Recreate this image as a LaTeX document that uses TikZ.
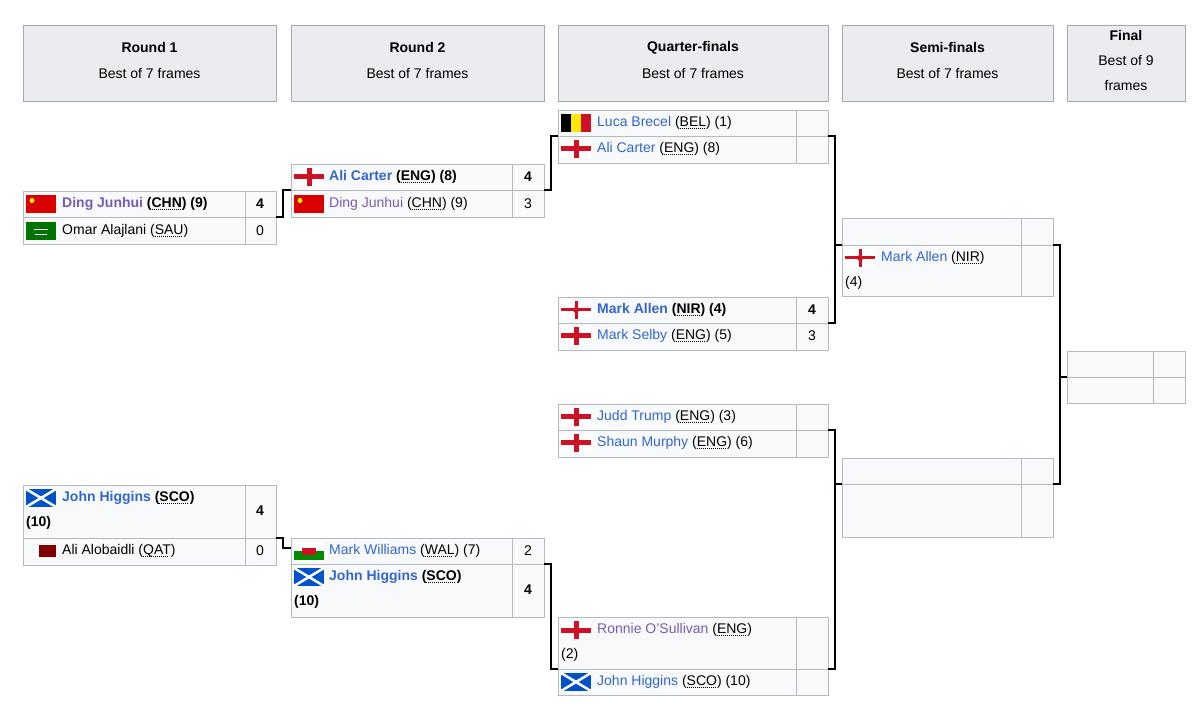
\documentclass[tikz,border=0pt]{standalone}
\usepackage{fontspec}
\setmainfont{Liberation Sans}
\definecolor{hdrfill}{HTML}{EAECF0}
\definecolor{hdrline}{HTML}{A2A9B1}
\definecolor{slotfill}{HTML}{F8F9FA}
\definecolor{link}{HTML}{3366CC}
\definecolor{visited}{HTML}{795CB2}
\definecolor{engred}{HTML}{CE1124}
\newcommand\abbr[1]{\setbox0\hbox{#1}\rlap{\raisebox{-2.5pt}{\hbox to\wd0{\leaders\hbox to 2pt{\vrule width 1pt height 0.7pt\hss}\hfil}}}\box0}
\tikzset{
    header/.style={draw=hdrline, fill=hdrfill},
    slotbox/.style={draw=hdrline!80, fill=slotfill},
    player/.style={anchor=west, inner sep=0pt, font=\fontsize{14}{17}\selectfont},
    score/.style={inner sep=0pt, font=\fontsize{14}{17}\selectfont},
    bracket/.style={draw=black, line width=1.2pt},
}
% flags, drawn in a 30x18 box centred vertically on the origin
\newcommand\flagENG{\fill[white] (0,-9) rectangle (30,9);
    \fill[engred] (12.5,-9) rectangle (17.5,9); \fill[engred] (0,-2.5) rectangle (30,2.5);}
\newcommand\flagCHN{\fill[red!85!black] (0,-9) rectangle (30,9);
    \fill[yellow] (6,-3.5) circle (2.5);}
\newcommand\flagSAU{\fill[green!45!black] (0,-9) rectangle (30,9);
    \draw[white, line width=.8pt] (8,-2) -- (22,-2); \draw[white] (9,3) -- (21,3);}
\newcommand\flagSCO{\fill[blue!60!cyan!80!black] (0,-9) rectangle (30,9);
    \draw[white, line width=2.5pt] (0,-9) -- (30,9) (0,9) -- (30,-9);}
\newcommand\flagQAT{\fill[white] (8,-6) rectangle (13,6); \fill[red!50!black] (13,-6) rectangle (30,6);}
\newcommand\flagWAL{\fill[white] (0,-9) rectangle (30,0); \fill[green!55!black] (0,0) rectangle (30,9);
    \fill[engred] (8,-3) rectangle (22,4);}
\newcommand\flagBEL{\fill[black] (0,-9) rectangle (10,9); \fill[yellow!90!orange] (10,-9) rectangle (20,9);
    \fill[engred] (20,-9) rectangle (30,9);}
\newcommand\flagNIR{\fill[white] (0,-9) rectangle (30,9);
    \fill[engred] (13.5,-9) rectangle (16.5,9); \fill[engred] (0,-1.5) rectangle (30,1.5);
    \fill[engred] (15,0) circle (3);}
\newcommand\flag[3]{\begin{scope}[shift={(#2,#3)}]\csname flag#1\endcsname\end{scope}}

\begin{document}
\begin{tikzpicture}[x=1pt, y=-1pt]
\useasboundingbox (0,0) rectangle (1200,708);

% headers
\foreach \xa/\xb/\name in {23/276/Round 1, 291/544/Round 2, 558/828/Quarter-finals, 842/1053/Semi-finals}{
    \draw[header] (\xa,25) rectangle (\xb,101);
    \node[score, font=\fontsize{14}{17}\selectfont\bfseries] at ({(\xa+\xb)/2},48) {\name};
    \node[score] at ({(\xa+\xb)/2},74) {Best of 7 frames};
}
\draw[header] (1067,25) rectangle (1185,101);
\node[score, font=\fontsize{14}{17}\selectfont\bfseries] (hfin) at (1126,36) {Final};
\node[score] (hfin2) at (1126,61) {Best of 9};
\node[score] (hfin3) at (1126,86) {frames};

% slot boxes: x left / split / right, y top / bottom
\foreach \xa/\xs/\xb/\ya/\yb in {
    23/245/276/191/217, 23/245/276/217/244,
    23/245/276/485/538, 23/245/276/538/565,
    291/512/544/164/190, 291/512/544/190/217,
    291/512/544/538/564, 291/512/544/564/617,
    558/796/828/110/136, 558/796/828/136/163,
    558/796/828/297/323, 558/796/828/323/350,
    558/796/828/404/430, 558/796/828/430/457,
    558/796/828/617/669, 558/796/828/669/695,
    842/1021/1053/218/245, 842/1021/1053/245/296,
    842/1021/1053/458/484, 842/1021/1053/484/537,
    1067/1153/1185/351/377, 1067/1153/1185/377/403}{
    \draw[slotbox] (\xa,\ya) rectangle (\xs,\yb);
    \draw[slotbox] (\xs,\ya) rectangle (\xb,\yb);
}

% round 1
\flag{CHN}{26}{204}
\node[player, text=visited, font=\fontsize{14}{17}\selectfont\bfseries] (dingA) at (62,204) {Ding Junhui \textcolor{black}{(\abbr{CHN}) (9)}};
\node[score, font=\fontsize{14}{17}\selectfont\bfseries] (dingAs) at (260,204) {4};
\flag{SAU}{26}{231}
\node[player] (omar) at (62,231) {Omar Alajlani (\abbr{SAU})};
\node[score] (omars) at (260,231) {0};
\flag{SCO}{26}{498}
\node[player, text=link, font=\fontsize{14}{17}\selectfont\bfseries] (higA) at (62,498) {John Higgins \textcolor{black}{(\abbr{SCO})}};
\node[player, font=\fontsize{14}{17}\selectfont\bfseries] (higA2) at (26,523) {(10)};
\node[score, font=\fontsize{14}{17}\selectfont\bfseries] (higAs) at (260,511) {4};
\flag{QAT}{26}{551}
\node[player] (alob) at (62,551) {Ali Alobaidli (\abbr{QAT})};
\node[score] (alobs) at (260,551) {0};

% round 2
\flag{ENG}{294}{177}
\node[player, text=link, font=\fontsize{14}{17}\selectfont\bfseries] (carB) at (329,177) {Ali Carter \textcolor{black}{(\abbr{ENG}) (8)}};
\node[score, font=\fontsize{14}{17}\selectfont\bfseries] (carBs) at (528,177) {4};
\flag{CHN}{294}{204}
\node[player, text=visited] (dingB) at (329,204) {Ding Junhui \textcolor{black}{(\abbr{CHN}) (9)}};
\node[score] (dingBs) at (528,204) {3};
\flag{WAL}{294}{551}
\node[player, text=link] (will) at (329,551) {Mark Williams \textcolor{black}{(\abbr{WAL}) (7)}};
\node[score] (wills) at (528,551) {2};
\flag{SCO}{294}{577}
\node[player, text=link, font=\fontsize{14}{17}\selectfont\bfseries] (higB) at (329,577) {John Higgins \textcolor{black}{(\abbr{SCO})}};
\node[player, font=\fontsize{14}{17}\selectfont\bfseries] (higB2) at (294,602) {(10)};
\node[score, font=\fontsize{14}{17}\selectfont\bfseries] (higBs) at (528,590) {4};

% quarter-finals
\flag{BEL}{561}{123}
\node[player, text=link] (brec) at (597,123) {Luca Brecel \textcolor{black}{(\abbr{BEL}) (1)}};
\flag{ENG}{561}{149}
\node[player, text=link] (carC) at (597,149) {Ali Carter \textcolor{black}{(\abbr{ENG}) (8)}};
\flag{NIR}{561}{310}
\node[player, text=link, font=\fontsize{14}{17}\selectfont\bfseries] (allC) at (597,310) {Mark Allen \textcolor{black}{(\abbr{NIR}) (4)}};
\node[score, font=\fontsize{14}{17}\selectfont\bfseries] (allCs) at (812,310) {4};
\flag{ENG}{561}{336}
\node[player, text=link] (selb) at (597,336) {Mark Selby \textcolor{black}{(\abbr{ENG}) (5)}};
\node[score] (selbs) at (812,336) {3};
\flag{ENG}{561}{417}
\node[player, text=link] (trump) at (597,417) {Judd Trump \textcolor{black}{(\abbr{ENG}) (3)}};
\flag{ENG}{561}{443}
\node[player, text=link] (murph) at (597,443) {Shaun Murphy \textcolor{black}{(\abbr{ENG}) (6)}};
\flag{ENG}{561}{630}
\node[player, text=visited] (ronnie) at (597,630) {Ronnie O'Sullivan \textcolor{black}{(\abbr{ENG})}};
\node[player] (ronnie2) at (561,655) {(2)};
\flag{SCO}{561}{682}
\node[player, text=link] (higC) at (597,682) {John Higgins \textcolor{black}{(\abbr{SCO}) (10)}};

% semi-finals
\flag{NIR}{845}{258}
\node[player, text=link] (allD) at (881,258) {Mark Allen \textcolor{black}{(\abbr{NIR})}};
\node[player] (allD2) at (845,283) {(4)};

% connectors
\coordinate (r1a) at (276,217); \coordinate (r2a) at (291,190);
\coordinate (r1b) at (276,538); \coordinate (r2b) at (291,548);
\coordinate (r2c) at (544,190); \coordinate (qfa) at (558,136);
\coordinate (r2d) at (544,564); \coordinate (qfd) at (558,669);
\coordinate (qf1) at (828,136); \coordinate (qf2) at (828,323);
\coordinate (qf3) at (828,430); \coordinate (qf4) at (828,669);
\coordinate (sf1) at (842,245); \coordinate (sf2) at (842,484);
\coordinate (sfo1) at (1053,245); \coordinate (sfo2) at (1053,484);
\coordinate (fin) at (1067,377);
\draw[bracket] (r1a) -- ++(7,0) |- (r2a);
\draw[bracket] (r1b) -- ++(7,0) |- (r2b);
\draw[bracket] (r2c) -- ++(7,0) |- (qfa);
\draw[bracket] (r2d) -- ++(7,0) |- (qfd);
\draw[bracket] (qf1) -- ++(7,0) |- (qf2);
\draw[bracket] (sf1) -- ++(-7,0);
\draw[bracket] (qf3) -- ++(7,0) |- (qf4);
\draw[bracket] (sf2) -- ++(-7,0);
\draw[bracket] (sfo1) -- ++(7,0) |- (sfo2);
\draw[bracket] (fin) -- ++(-7,0);
\end{tikzpicture}
\end{document}
